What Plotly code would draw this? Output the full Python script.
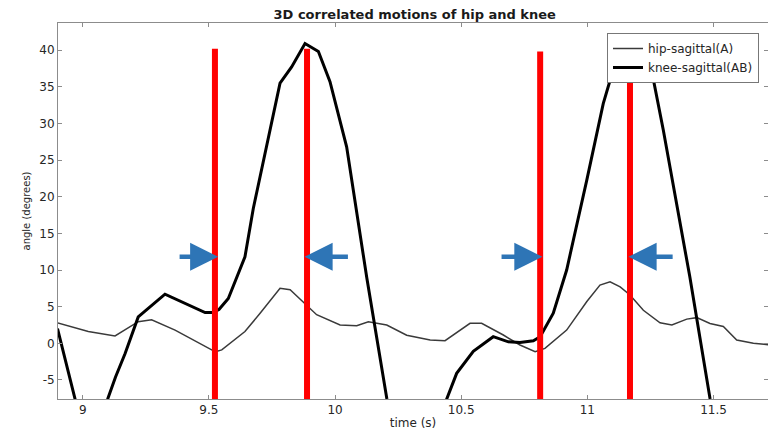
import plotly.graph_objects as go

# ---- data ----
hip_t = [8.90, 9.022, 9.128, 9.22, 9.273, 9.366, 9.511, 9.53, 9.551, 9.60, 9.643, 9.703,
         9.782, 9.822, 9.888, 9.927, 10.02, 10.086, 10.132, 10.205, 10.284, 10.377, 10.436,
         10.535, 10.581, 10.667, 10.733, 10.793, 10.832, 10.918, 10.998, 11.05, 11.09, 11.13,
         11.169, 11.222, 11.288, 11.335, 11.394, 11.434, 11.486, 11.539, 11.592, 11.658, 11.72]
hip_v = [2.8, 1.6, 1.0, 2.95, 3.2, 1.8, -0.9, -1.1, -0.9, 0.5, 1.6, 4.1,
         7.5, 7.3, 5.2, 3.9, 2.5, 2.4, 2.95, 2.5, 1.1, 0.45, 0.36,
         2.73, 2.73, 1.13, -0.23, -1.14, -0.7, 1.8, 5.7, 7.95, 8.4, 7.7,
         6.6, 4.5, 2.8, 2.5, 3.3, 3.5, 2.7, 2.3, 0.45, 0.0, -0.2]

knee_t = [8.90, 8.97, 9.00, 9.04, 9.07, 9.10, 9.13, 9.168, 9.22, 9.326, 9.392, 9.485, 9.515,
          9.54, 9.577, 9.617, 9.643, 9.676, 9.73, 9.782, 9.828, 9.881, 9.934, 9.98, 10.046,
          10.126, 10.205, 10.25, 10.30, 10.36, 10.41, 10.443, 10.482, 10.548, 10.627, 10.687,
          10.733, 10.786, 10.813, 10.865, 10.918, 10.998, 11.063, 11.11, 11.14, 11.18, 11.22,
          11.249, 11.301, 11.406, 11.486, 11.55, 11.65, 11.72]
knee_v = [2.0, -7.6, -11.8, -13.0, -11.0, -7.5, -4.6, -1.4, 3.6, 6.7, 5.7, 4.2, 4.2,
          4.6, 6.1, 9.5, 11.8, 18.4, 27.0, 35.5, 37.7, 40.9, 39.8, 35.7, 26.8,
          8.9, -7.5, -15.0, -18.5, -15.0, -10.5, -7.5, -4.1, -1.1, 0.9, 0.2,
          0.1, 0.35, 0.9, 4.1, 10.0, 22.3, 32.7, 38.2, 40.6, 41.5, 40.3,
          38.2, 29.1, 9.1, -7.5, -18.0, -22.0, -20.0]

event_times = [9.524, 9.889, 10.813, 11.169]
event_tops = [40.2, 40.2, 39.8, 40.2]
arrow_level = 11.8
arrow_tips = [9.537, 9.879, 10.822, 11.163]
arrow_tails = [9.378, 10.057, 10.654, 11.344]

x_ticks = [9, 9.5, 10, 10.5, 11, 11.5]
x_tick_labels = ["9", "9.5", "10", "10.5", "11", "11.5"]
y_ticks = [-5, 0, 5, 10, 15, 20, 25, 30, 35, 40]
y_tick_labels = ["-5", "0", "5", "10", "15", "20", "25", "30", "35", "40"]

X_RANGE = [8.902, 11.716]
Y_RANGE = [-7.6, 43.7]

fig = go.Figure()
fig.add_trace(go.Scatter(x=hip_t, y=hip_v, mode="lines", name="hip-sagittal(A)",
                         line=dict(color="#3a3a3a", width=1.5)))
fig.add_trace(go.Scatter(x=knee_t, y=knee_v, mode="lines", name="knee-sagittal(AB)",
                         line=dict(color="#000000", width=3)))

for t, top in zip(event_times, event_tops):
    fig.add_trace(go.Scatter(x=[t, t], y=[Y_RANGE[0] - 1, top], mode="lines",
                             showlegend=False, hoverinfo="skip",
                             line=dict(color="#ff0000", width=6)))

for tip, tail in zip(arrow_tips, arrow_tails):
    fig.add_annotation(x=tip, y=arrow_level, ax=tail, ay=arrow_level,
                       xref="x", yref="y", axref="x", ayref="y",
                       text="", showarrow=True, arrowhead=2, arrowsize=1.25,
                       arrowwidth=4.5, arrowcolor="#2E75B6", standoff=0)

axis_common = dict(showline=True, linecolor="#8c8c8c", linewidth=1, mirror="ticks",
                   ticks="inside", ticklen=4, tickcolor="#8c8c8c", showgrid=False,
                   zeroline=False,
                   tickfont=dict(family="DejaVu Sans", size=12, color="#262626"))

fig.update_xaxes(range=X_RANGE, tickvals=x_ticks, ticktext=x_tick_labels,
                 title=dict(text="time (s)", standoff=2,
                            font=dict(family="DejaVu Sans", size=12, color="#262626")),
                 **axis_common)
fig.update_yaxes(range=Y_RANGE, tickvals=y_ticks, ticktext=y_tick_labels,
                 title=dict(text="angle (degrees)", standoff=6,
                            font=dict(family="DejaVu Sans", size=10, color="#262626")),
                 **axis_common)

fig.update_layout(
    width=768, height=439,
    margin=dict(l=58, r=0, t=23, b=40),
    paper_bgcolor="white", plot_bgcolor="white",
    title=dict(text="<b>3D correlated motions of hip and knee</b>", x=0.54, xanchor="center",
               y=0.968, yanchor="middle",
               font=dict(family="DejaVu Sans", size=13, color="#1a1a1a")),
    legend=dict(x=(759 - 58) / 710, y=1 - (33 - 23) / 376, xanchor="right", yanchor="top",
                bgcolor="white", bordercolor="#777777", borderwidth=1,
                font=dict(family="DejaVu Sans", size=12, color="#262626"),
                tracegroupgap=0, itemwidth=30),
    showlegend=True,
)

fig.write_html("out.html")
